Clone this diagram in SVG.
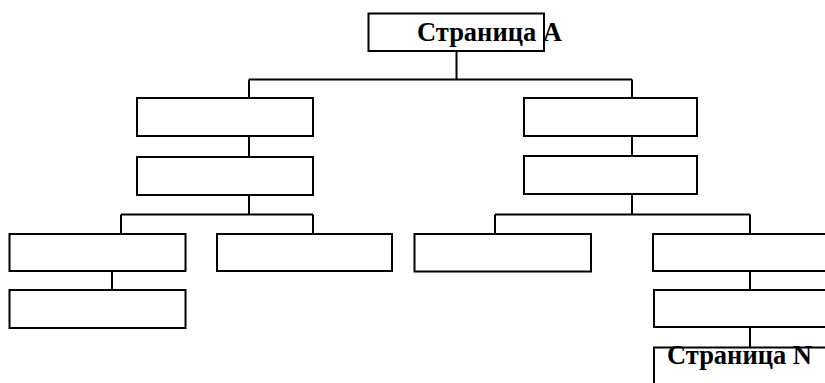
<svg xmlns="http://www.w3.org/2000/svg" width="825" height="383" viewBox="0 0 825 383">
<style>
.b{fill:#fff;stroke:#000;stroke-width:2}
.c{fill:none;stroke:#000;stroke-width:2}
.t{font-family:"Liberation Serif","Times New Roman",serif;font-weight:bold;font-size:26.5px;fill:#000}
</style>
<rect width="825" height="383" fill="#fff"/>
<g id="connectors">
<path class="c" d="M456.5 51V79.5M249 79.5H632M249 79.5V98M632 79.5V98M249 136V157M632 136V156M249 195V214.5M121 214.5H313M121 214.5V234M313 214.5V234M112 271V290M632 194V214.5M495 214.5H750M495 214.5V234M750 214.5V234M750 271V290M750 327V347"/>
</g>
<g id="pageA"><rect class="b" x="368.5" y="13.5" width="175.5" height="37.5"/><text class="t" x="417" y="41">Страница A</text></g>
<g id="n1"><rect class="b" x="137" y="98" width="176" height="38"/></g>
<g id="n2"><rect class="b" x="137" y="157" width="176" height="38"/></g>
<g id="n3"><rect class="b" x="524" y="98" width="173" height="38"/></g>
<g id="n4"><rect class="b" x="524" y="156" width="173" height="38"/></g>
<g id="n5"><rect class="b" x="9.5" y="234" width="176" height="37"/></g>
<g id="n6"><rect class="b" x="9.5" y="290" width="176" height="38"/></g>
<g id="n7"><rect class="b" x="217" y="234" width="175" height="37"/></g>
<g id="n8"><rect class="b" x="414.5" y="234" width="176.5" height="37.5"/></g>
<g id="n9"><rect class="b" x="653" y="234" width="180" height="37"/></g>
<g id="n10"><rect class="b" x="654" y="290" width="180" height="37"/></g>
<g id="pageN"><rect class="b" x="654" y="347.5" width="180" height="50"/><text class="t" x="667" y="363.5">Страница N</text></g>
</svg>
